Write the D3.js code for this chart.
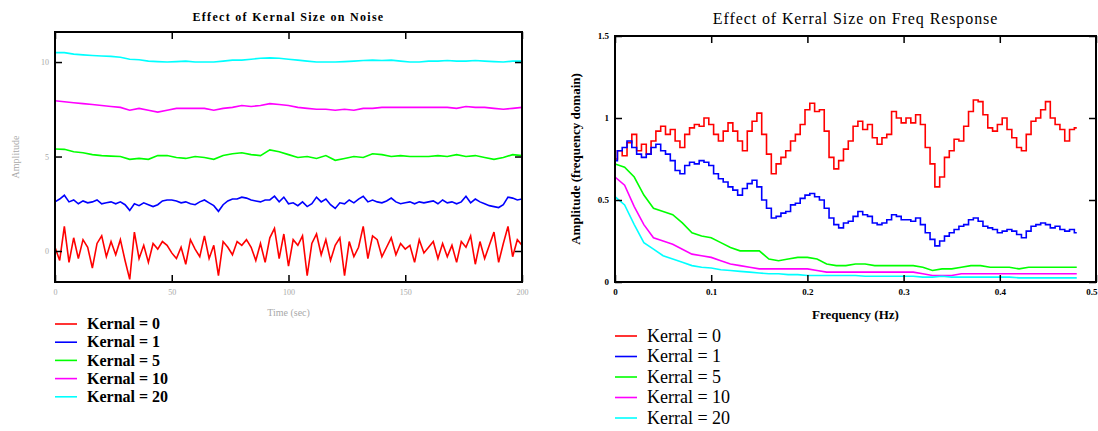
<!DOCTYPE html>
<html>
<head>
<meta charset="utf-8">
<script src="https://cdn.jsdelivr.net/npm/d3@7"></script>
<style>
body { margin: 0; background: #fff; }
svg { display: block; }
text { font-family: "Liberation Serif", "Times New Roman", serif; }
</style>
</head>
<body>
<svg id="chart" width="1098" height="431"></svg>
<script>
// kernels and colours shared by both panels
const kernels = [0, 1, 5, 10, 20]
const colors = ["#ff0000", "#0000ff", "#00ff00", "#ff00ff", "#00ffff"]

// left panel: noise vs time (sec), one sample every timeStep seconds
const timeStep = 2
const noiseTicksX = [0, 50, 100, 150, 200]
const noiseTicksY = [0, 5, 10]
const noiseK0 = [0.2, -0.5, 1.3, -0.6, 0.7, -0.4, 0.6, 0.2, -0.9, 0.4,
	0.8, -0.3, 0.5, -0.2, 0.6, -0.5, -1.5, 1.0, -0.4, 0.3,
	-0.6, 0.4, 0.1, 0.5, 0.3, -0.1, -0.4, 0.2, -0.7, 0.6,
	0.1, -0.3, 0.8, -0.4, 0.3, -1.3, 0.5, 0.2, -0.2, 0.5,
	0.3, 0.6, 0.2, -0.5, 0.4, -0.6, 0.7, 1.2, -0.4, 0.9,
	-0.8, 0.6, 0.3, 0.8, -1.3, 0.4, 0.9, -0.2, 0.6, -0.5,
	0.3, 0.7, -1.3, 0.5, -0.3, 0.2, 1.3, -0.4, 0.8, 0.6,
	-0.3, 0.2, 0.7, -0.2, 0.4, 0.1, 0.3, -0.6, 0.6, -0.1,
	0.2, 0.5, -0.4, 0.4, -0.3, 0.3, -0.6, 0.5, 0.2, 0.8,
	-0.7, 0.5, -0.4, 0.3, 1.0, -0.6, 0.4, 1.3, -0.3, 0.6, 0.3]
const noiseK1 = [2.6, 2.75, 2.95, 2.6, 2.7, 2.5, 2.65, 2.55, 2.6, 2.7,
	2.5, 2.55, 2.6, 2.5, 2.6, 2.45, 2.15, 2.5, 2.4, 2.55,
	2.45, 2.35, 2.45, 2.65, 2.7, 2.7, 2.65, 2.55, 2.6, 2.5,
	2.45, 2.6, 2.7, 2.55, 2.4, 2.1, 2.45, 2.65, 2.75, 2.75,
	2.85, 2.8, 2.7, 2.65, 2.6, 2.7, 2.7, 2.9, 2.6, 2.85,
	2.5, 2.55, 2.4, 2.6, 2.35, 2.5, 2.85, 2.6, 2.75, 2.45,
	2.25, 2.55, 2.5, 2.7, 2.55, 2.75, 2.9, 2.6, 2.7, 2.6,
	2.55, 2.65, 2.8, 2.6, 2.5, 2.55, 2.6, 2.5, 2.6, 2.55,
	2.6, 2.65, 2.5, 2.7, 2.55, 2.6, 2.5, 2.6, 2.9, 2.55,
	2.75, 2.6, 2.5, 2.4, 2.35, 2.3, 2.45, 2.85, 2.8, 2.7, 2.75]
// smoother series are sampled every 2*timeStep
const noiseK5 = [5.4, 5.38, 5.25, 5.2, 5.1, 5.05, 5.02, 5.0, 4.85, 4.9,
	4.85, 5.05, 5.05, 4.95, 4.9, 5.0, 4.95, 4.85, 5.05, 5.15,
	5.2, 5.1, 5.05, 5.35, 5.25, 5.1, 4.95, 5.0, 4.9, 5.05,
	4.8, 4.9, 5.0, 4.95, 5.15, 5.1, 5.0, 5.05, 5.0, 5.0,
	5.0, 5.05, 5.0, 5.1, 5.0, 5.05, 4.95, 4.85, 4.95, 5.1, 5.05]
const noiseK10 = [7.95, 7.9, 7.85, 7.8, 7.75, 7.7, 7.65, 7.6, 7.45, 7.55,
	7.45, 7.35, 7.45, 7.55, 7.55, 7.55, 7.55, 7.45, 7.55, 7.6,
	7.7, 7.65, 7.7, 7.8, 7.75, 7.7, 7.6, 7.55, 7.5, 7.5,
	7.45, 7.5, 7.45, 7.55, 7.55, 7.6, 7.6, 7.6, 7.6, 7.6,
	7.6, 7.6, 7.6, 7.55, 7.65, 7.6, 7.6, 7.55, 7.5, 7.55, 7.6]
const noiseK20 = [10.5, 10.5, 10.42, 10.38, 10.35, 10.32, 10.3, 10.25, 10.15, 10.12,
	10.05, 10.02, 10.0, 10.02, 10.05, 10.0, 10.0, 10.0, 10.05, 10.1,
	10.1, 10.15, 10.2, 10.22, 10.2, 10.15, 10.1, 10.05, 10.0, 10.0,
	10.0, 10.02, 10.05, 10.08, 10.1, 10.08, 10.1, 10.05, 10.0, 10.0,
	10.05, 10.05, 10.08, 10.05, 10.05, 10.08, 10.05, 10.02, 10.0, 10.05, 10.05]

// right panel: amplitude vs frequency (Hz)
const freqTicksX = [0, 0.1, 0.2, 0.3, 0.4, 0.5]
const freqTicksY = [0, 0.5, 1, 1.5]
const fineStep = 0.005
const coarseStep = 0.01
const freqK0 = [0.75, 0.80, 0.77, 0.85, 0.90, 0.80, 0.84, 0.78, 0.86, 0.92,
	0.95, 0.90, 0.93, 0.86, 0.82, 0.90, 0.94, 0.96, 0.95, 1.00,
	0.96, 0.90, 0.86, 0.92, 0.97, 0.92, 0.86, 0.80, 0.92, 0.98,
	1.03, 0.90, 0.78, 0.66, 0.72, 0.76, 0.80, 0.86, 0.90, 0.96,
	1.05, 1.09, 1.04, 1.05, 0.92, 0.76, 0.69, 0.74, 0.81, 0.86,
	0.95, 0.98, 0.93, 0.96, 0.88, 0.84, 0.88, 0.90, 1.04, 1.00,
	0.97, 1.00, 0.97, 1.02, 0.96, 0.82, 0.72, 0.58, 0.64, 0.76,
	0.80, 0.87, 0.86, 0.95, 1.04, 1.11, 1.10, 1.02, 0.94, 0.92,
	0.96, 1.00, 0.93, 0.88, 0.82, 0.80, 0.90, 0.98, 1.00, 1.05,
	1.10, 1.00, 0.96, 0.93, 0.86, 0.93, 0.94]
const freqK1 = [0.74, 0.80, 0.82, 0.86, 0.82, 0.78, 0.76, 0.78, 0.82, 0.84,
	0.80, 0.78, 0.74, 0.68, 0.66, 0.71, 0.73, 0.72, 0.74, 0.73,
	0.71, 0.66, 0.63, 0.61, 0.58, 0.56, 0.53, 0.57, 0.60, 0.62,
	0.58, 0.50, 0.45, 0.39, 0.40, 0.42, 0.43, 0.47, 0.48, 0.51,
	0.53, 0.54, 0.52, 0.50, 0.45, 0.39, 0.35, 0.33, 0.36, 0.37,
	0.40, 0.43, 0.41, 0.40, 0.36, 0.35, 0.36, 0.38, 0.41, 0.40,
	0.38, 0.38, 0.37, 0.39, 0.35, 0.30, 0.26, 0.22, 0.25, 0.28,
	0.30, 0.32, 0.34, 0.35, 0.38, 0.39, 0.37, 0.34, 0.33, 0.32,
	0.30, 0.31, 0.32, 0.31, 0.29, 0.27, 0.31, 0.34, 0.35, 0.36,
	0.35, 0.33, 0.34, 0.32, 0.31, 0.32, 0.30]
const freqK5 = [0.72, 0.70, 0.64, 0.53, 0.45, 0.43, 0.41, 0.36, 0.30, 0.28,
	0.27, 0.24, 0.21, 0.19, 0.19, 0.19, 0.14, 0.13, 0.14, 0.15,
	0.15, 0.14, 0.11, 0.10, 0.10, 0.11, 0.11, 0.10, 0.10, 0.10,
	0.10, 0.10, 0.09, 0.07, 0.08, 0.08, 0.09, 0.10, 0.10, 0.09,
	0.09, 0.09, 0.08, 0.09, 0.09, 0.09, 0.09, 0.09, 0.09]
const freqK10 = [0.64, 0.59, 0.46, 0.35, 0.27, 0.25, 0.23, 0.20, 0.17, 0.16,
	0.15, 0.13, 0.11, 0.10, 0.09, 0.08, 0.08, 0.08, 0.08, 0.08,
	0.08, 0.07, 0.06, 0.06, 0.06, 0.06, 0.06, 0.06, 0.06, 0.06,
	0.06, 0.06, 0.05, 0.04, 0.04, 0.04, 0.05, 0.05, 0.05, 0.05,
	0.05, 0.05, 0.05, 0.05, 0.05, 0.05, 0.05, 0.05, 0.05]
const freqK20 = [0.52, 0.47, 0.35, 0.24, 0.20, 0.16, 0.14, 0.12, 0.10, 0.09,
	0.085, 0.075, 0.07, 0.065, 0.06, 0.055, 0.05, 0.05, 0.045, 0.045,
	0.04, 0.04, 0.04, 0.04, 0.04, 0.04, 0.035, 0.035, 0.035, 0.035,
	0.035, 0.035, 0.03, 0.03, 0.035, 0.03, 0.03, 0.03, 0.03, 0.03,
	0.03, 0.03, 0.025, 0.025, 0.025, 0.025, 0.025, 0.025, 0.025]

const svg = d3.select("#chart")
svg.append("rect").attr("width", 1098).attr("height", 431).attr("fill", "#fff")

function drawPanel(cfg) {
	const g = svg.append("g")
	const x = d3.scaleLinear().domain(cfg.xDomain).range([cfg.left, cfg.right])
	const y = d3.scaleLinear().domain(cfg.yDomain).range([cfg.bottom, cfg.top])

	// data lines, clipped to the box
	const clipId = "clip" + cfg.id
	g.append("clipPath").attr("id", clipId).append("rect")
		.attr("x", cfg.left).attr("y", cfg.top)
		.attr("width", cfg.right - cfg.left).attr("height", cfg.bottom - cfg.top)
	const lines = g.append("g").attr("clip-path", `url(#${clipId})`)
	cfg.series.forEach((s, k) => {
		// random-walk spectra are drawn as steps like the original plot
		const line = d3.line().x((d, i) => x(i * s.step)).y(d => y(d))
			.curve(s.stepped ? d3.curveStep : d3.curveLinear)
		lines.append("path").datum(s.values)
			.attr("fill", "none").attr("stroke", colors[k])
			.attr("stroke-width", 1.6).attr("d", line)
	})

	// ticks pointing into the box on all four sides
	const tick = 7
	const bottomAxis = g.append("g").attr("transform", `translate(0,${cfg.bottom})`)
		.call(d3.axisBottom(x).tickValues(cfg.xTicks).tickSizeInner(-tick).tickSizeOuter(0)
			.tickPadding(7).tickFormat(cfg.xFormat))
	const leftAxis = g.append("g").attr("transform", `translate(${cfg.left},0)`)
		.call(d3.axisLeft(y).tickValues(cfg.yTicks).tickSizeInner(-tick).tickSizeOuter(0)
			.tickPadding(6).tickFormat(cfg.yFormat))
	g.append("g").attr("transform", `translate(0,${cfg.top})`)
		.call(d3.axisTop(x).tickValues(cfg.xTicks).tickSizeInner(-tick).tickSizeOuter(0).tickFormat(""))
	g.append("g").attr("transform", `translate(${cfg.right},0)`)
		.call(d3.axisRight(y).tickValues(cfg.yTicks).tickSizeInner(-tick).tickSizeOuter(0).tickFormat(""))
	g.selectAll(".domain").remove()
	g.selectAll(".tick line").attr("stroke", "#000").attr("stroke-width", 1.5)
	;[bottomAxis, leftAxis].forEach(a => a.selectAll("text")
		.attr("fill", cfg.labelColor).style("font-size", cfg.tickFont)
		.style("font-weight", cfg.tickWeight).style("font-family", '"Liberation Serif", serif'))
	// the last x label sits against the page edge
	if (cfg.lastLabelEnd) {
		bottomAxis.selectAll(".tick").filter((d, i, n) => i === n.length - 1)
			.select("text").attr("text-anchor", "end").attr("x", cfg.lastLabelEnd - cfg.right)
	}

	// frame
	g.append("rect").attr("x", cfg.left).attr("y", cfg.top)
		.attr("width", cfg.right - cfg.left).attr("height", cfg.bottom - cfg.top)
		.attr("fill", "none").attr("stroke", "#000").attr("stroke-width", 2)

	// titles
	const mid = (cfg.left + cfg.right) / 2
	g.append("text").attr("x", mid).attr("y", cfg.titleY).attr("text-anchor", "middle")
		.style("font-size", cfg.titleFont).style("font-weight", cfg.titleWeight)
		.style("letter-spacing", cfg.titleSpacing)
		.attr("fill", "#000").text(cfg.title)
	g.append("text").attr("x", mid).attr("y", cfg.xTitleY).attr("text-anchor", "middle")
		.style("font-size", cfg.axisFont).style("font-weight", cfg.axisWeight)
		.attr("fill", cfg.labelColor).text(cfg.xTitle)
	g.append("text")
		.attr("transform", `translate(${cfg.yTitleX},${(cfg.top + cfg.bottom) / 2}) rotate(-90)`)
		.attr("text-anchor", "middle").attr("dy", "0.35em")
		.style("font-size", cfg.axisFont).style("font-weight", cfg.axisWeight)
		.attr("fill", cfg.labelColor).text(cfg.yTitle)

	// legend
	const leg = g.append("g")
	kernels.forEach((kv, k) => {
		const ly = cfg.legendY + k * cfg.legendGap
		leg.append("line").attr("x1", cfg.left).attr("x2", cfg.left + 22)
			.attr("y1", ly).attr("y2", ly).attr("stroke", colors[k]).attr("stroke-width", 1.6)
		leg.append("text").attr("x", cfg.left + 32).attr("y", ly).attr("dy", "0.33em")
			.style("font-size", cfg.legendFont).style("font-weight", cfg.legendWeight)
			.attr("fill", "#000").text(`${cfg.legendWord} = ${kv}`)
	})
}

drawPanel({
	id: "noise",
	left: 55, right: 522, top: 32, bottom: 282,
	xDomain: [0, 200], yDomain: [-1.64, 11.59],
	xTicks: noiseTicksX, yTicks: noiseTicksY,
	xFormat: d3.format("d"), yFormat: d3.format("d"),
	series: [
		{ values: noiseK0, step: timeStep },
		{ values: noiseK1, step: timeStep },
		{ values: noiseK5, step: timeStep * 2 },
		{ values: noiseK10, step: timeStep * 2 },
		{ values: noiseK20, step: timeStep * 2 }
	],
	labelColor: "#a8a8a8", tickFont: "8px", tickWeight: "normal",
	title: "Effect of Kernal Size on Noise", titleY: 21, titleFont: "12px", titleWeight: "bold",
	titleSpacing: "1.3px",
	xTitle: "Time (sec)", xTitleY: 316, yTitle: "Amplitude", yTitleX: 15,
	axisFont: "10px", axisWeight: "normal",
	legendY: 324, legendGap: 18.2, legendFont: "16px", legendWeight: "bold", legendWord: "Kernal"
})

drawPanel({
	id: "freq",
	left: 615, right: 1096, top: 36, bottom: 282,
	xDomain: [0, 0.5], yDomain: [0, 1.5],
	xTicks: freqTicksX, yTicks: freqTicksY,
	xFormat: d => d === 0 ? "0" : d3.format(".1f")(d), yFormat: d => d === 0 ? "0" : String(d),
	lastLabelEnd: 1097,
	series: [
		{ values: freqK0, step: fineStep, stepped: true },
		{ values: freqK1, step: fineStep, stepped: true },
		{ values: freqK5, step: coarseStep },
		{ values: freqK10, step: coarseStep },
		{ values: freqK20, step: coarseStep }
	],
	labelColor: "#000", tickFont: "9px", tickWeight: "bold",
	title: "Effect of Kerral Size on Freq Response", titleY: 24, titleFont: "16px", titleWeight: "normal",
	titleSpacing: "0.9px",
	xTitle: "Frequency (Hz)", xTitleY: 319, yTitle: "Amplitude (frequency domain)", yTitleX: 575,
	axisFont: "13px", axisWeight: "bold",
	legendY: 336, legendGap: 20.5, legendFont: "18px", legendWeight: "normal", legendWord: "Kerral"
})
</script>
</body>
</html>
